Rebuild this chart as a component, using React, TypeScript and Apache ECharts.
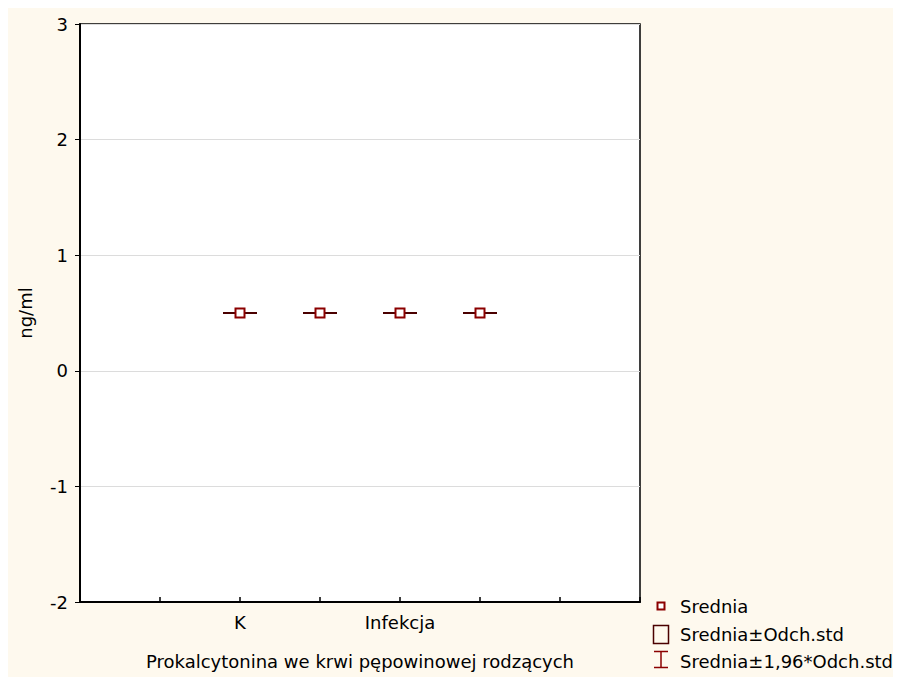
import React, { useEffect, useRef } from "react";
import * as echarts from "echarts";

const groupPositions = [2, 3, 4, 5];
const means = [0.5, 0.5, 0.5, 0.5];
const stdDevs = [0, 0, 0, 0];
const xTickLabels: Record<number, string> = { 2: "K", 4: "Infekcja" };
const legendLabels = ["Srednia", "Srednia±Odch.std", "Srednia±1,96*Odch.std"];

const FONT = "DejaVu Sans";
const FS = 18;
const MARKER = "#8B0000";
const LINE = "#4a0000";

export default function App() {
  const ref = useRef<HTMLDivElement>(null);
  useEffect(() => {
    if (!ref.current) return;
    const chart = echarts.init(ref.current, undefined, { renderer: "svg" });
    const boxData = groupPositions.map((x, i) => [x, means[i], stdDevs[i]]);
    const meanData = groupPositions.map((x, i) => [x, means[i]]);
    const lx = 645;
    chart.setOption({
      animation: false,
      backgroundColor: "#FEF9EE",
      textStyle: { fontFamily: FONT },
      grid: {
        left: 72,
        top: 16,
        right: 261,
        bottom: 75,
        show: true,
        backgroundColor: "#ffffff",
        borderColor: "#000",
        borderWidth: 1.5,
      },
      xAxis: {
        type: "value",
        min: 0,
        max: 7,
        interval: 1,
        name: "Prokalcytonina we krwi pępowinowej rodzących",
        nameLocation: "middle",
        nameGap: 50,
        nameTextStyle: { fontSize: FS, color: "#000", fontFamily: FONT },
        axisLine: { show: true, onZero: false, lineStyle: { color: "#000", width: 2 } },
        axisTick: { show: true, inside: true, length: 5, lineStyle: { color: "#000", width: 1.5 } },
        axisLabel: {
          fontSize: FS,
          color: "#000",
          margin: 11,
          fontFamily: FONT,
          formatter: (v: number) => xTickLabels[v] ?? "",
        },
        splitLine: { show: false },
      },
      yAxis: {
        type: "value",
        min: -2,
        max: 3,
        interval: 1,
        name: "ng/ml",
        nameLocation: "middle",
        nameGap: 46,
        nameTextStyle: { fontSize: FS, color: "#000", fontFamily: FONT },
        axisLine: { show: true, onZero: false, lineStyle: { color: "#000", width: 2 } },
        axisTick: { show: true, inside: false, length: 5, lineStyle: { color: "#000", width: 1 } },
        axisLabel: { fontSize: FS, color: "#000", margin: 12, fontFamily: FONT },
        splitLine: { show: true, lineStyle: { color: "#dcdcdc", width: 1 } },
      },
      series: [
        {
          type: "custom",
          z: 2,
          data: boxData,
          renderItem: (params: any, api: any) => {
            const x = api.value(0);
            const m = api.value(1);
            const sd = api.value(2);
            const c = api.coord([x, m]);
            const top1 = api.coord([x, m + sd])[1];
            const bot1 = api.coord([x, m - sd])[1];
            const top2 = api.coord([x, m + 1.96 * sd])[1];
            const bot2 = api.coord([x, m - 1.96 * sd])[1];
            const bw = 12;
            const cw = 17;
            const st = { stroke: LINE, lineWidth: 2, fill: null };
            return {
              type: "group",
              children: [
                { type: "line", shape: { x1: c[0], y1: top2, x2: c[0], y2: bot2 }, style: st },
                { type: "line", shape: { x1: c[0] - cw, y1: top2, x2: c[0] + cw, y2: top2 }, style: st },
                { type: "line", shape: { x1: c[0] - cw, y1: bot2, x2: c[0] + cw, y2: bot2 }, style: st },
                {
                  type: "rect",
                  shape: { x: c[0] - bw, y: top1, width: 2 * bw, height: Math.max(bot1 - top1, 0) },
                  style: { stroke: LINE, lineWidth: 2, fill: "rgba(0,0,0,0)" },
                },
              ],
            };
          },
        },
        {
          type: "scatter",
          z: 3,
          data: meanData,
          symbol: "rect",
          symbolSize: 9,
          itemStyle: { color: "#ffffff", borderColor: MARKER, borderWidth: 2, opacity: 1 },
        },
      ],
      graphic: [
        {
          type: "rect",
          shape: { x: lx + 4.5, y: 594.5, width: 7, height: 7 },
          style: { fill: "#fff", stroke: MARKER, lineWidth: 2 },
        },
        {
          type: "text",
          x: lx + 27,
          y: 598,
          style: { text: legendLabels[0], fontSize: FS, fontFamily: FONT, fill: "#000", verticalAlign: "middle" },
        },
        {
          type: "rect",
          shape: { x: lx + 0.5, y: 617.5, width: 15, height: 18 },
          style: { fill: "rgba(0,0,0,0)", stroke: LINE, lineWidth: 1.5 },
        },
        {
          type: "text",
          x: lx + 27,
          y: 626,
          style: { text: legendLabels[1], fontSize: FS, fontFamily: FONT, fill: "#000", verticalAlign: "middle" },
        },
        {
          type: "line",
          shape: { x1: lx + 8, y1: 643, x2: lx + 8, y2: 660 },
          style: { stroke: MARKER, lineWidth: 1.5 },
        },
        {
          type: "line",
          shape: { x1: lx + 1, y1: 643.5, x2: lx + 15, y2: 643.5 },
          style: { stroke: MARKER, lineWidth: 1.5 },
        },
        {
          type: "line",
          shape: { x1: lx + 1, y1: 659.5, x2: lx + 15, y2: 659.5 },
          style: { stroke: MARKER, lineWidth: 1.5 },
        },
        {
          type: "text",
          x: lx + 27,
          y: 653,
          style: { text: legendLabels[2], fontSize: FS, fontFamily: FONT, fill: "#000", verticalAlign: "middle" },
        },
      ],
    });
    return () => chart.dispose();
  }, []);
  return <div ref={ref} style={{ width: 893, height: 669 }} />;
}
